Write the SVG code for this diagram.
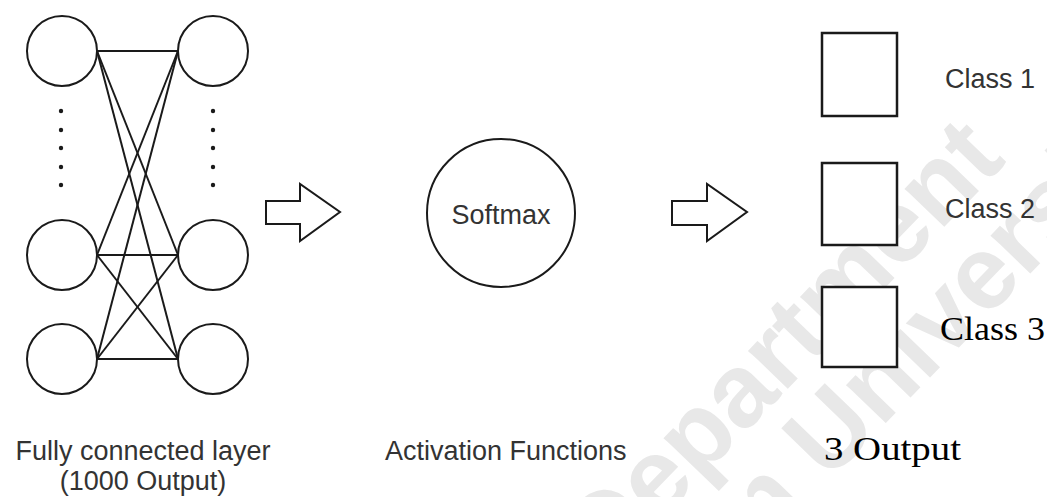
<svg xmlns="http://www.w3.org/2000/svg" width="1047" height="497" viewBox="0 0 1047 497">
  <style>
    .neuron { fill: #fff; stroke: #1a1a1a; stroke-width: 2; }
    .box { fill: #fff; stroke: #1a1a1a; stroke-width: 2.5; }
    .link { stroke: #1a1a1a; stroke-width: 2; fill: none; }
    .dot { fill: #1a1a1a; }
    .arrow { fill: #fff; stroke: #1a1a1a; stroke-width: 2; stroke-linejoin: miter; }
    .sans { font-family: "Liberation Sans", Arial, sans-serif; font-size: 27px; fill: #333; }
    .serif { font-family: "Liberation Serif", "Times New Roman", serif; font-size: 34px; fill: #000; }
    .wm { font-family: "Liberation Sans", Arial, sans-serif; font-weight: bold; font-size: 104px; fill: #e8e8e8; }
  </style>

  <rect width="1047" height="497" fill="#fff"/>

  <!-- background watermark, two parallel diagonal lines -->
  <g id="watermark">
    <text class="wm" transform="translate(606,577) rotate(-46)">Department</text>
    <text class="wm" transform="translate(660,657) rotate(-46)">ham University</text>
  </g>

  <!-- fully connected layer: all-to-all links -->
  <g id="connectors">
    <line class="link" x1="97" y1="51" x2="178" y2="51"/>
    <line class="link" x1="97" y1="51" x2="178" y2="255"/>
    <line class="link" x1="97" y1="51" x2="178" y2="359"/>
    <line class="link" x1="97" y1="255" x2="178" y2="51"/>
    <line class="link" x1="97" y1="255" x2="178" y2="255"/>
    <line class="link" x1="97" y1="255" x2="178" y2="359"/>
    <line class="link" x1="97" y1="359" x2="178" y2="51"/>
    <line class="link" x1="97" y1="359" x2="178" y2="255"/>
    <line class="link" x1="97" y1="359" x2="178" y2="359"/>
  </g>

  <g id="in-1"><circle class="neuron" cx="62" cy="51" r="35"/></g>
  <g id="in-2"><circle class="neuron" cx="62" cy="255" r="35"/></g>
  <g id="in-3"><circle class="neuron" cx="62" cy="359" r="35"/></g>
  <g id="out-1"><circle class="neuron" cx="213" cy="51" r="35"/></g>
  <g id="out-2"><circle class="neuron" cx="213" cy="255" r="35"/></g>
  <g id="out-3"><circle class="neuron" cx="213" cy="359" r="35"/></g>

  <!-- ellipsis between first and second neurons -->
  <g id="ellipsis-left">
    <circle class="dot" cx="61" cy="111" r="2.2"/>
    <circle class="dot" cx="61" cy="130" r="2.2"/>
    <circle class="dot" cx="61" cy="148" r="2.2"/>
    <circle class="dot" cx="61" cy="167" r="2.2"/>
    <circle class="dot" cx="61" cy="185" r="2.2"/>
  </g>
  <g id="ellipsis-right">
    <circle class="dot" cx="213" cy="111" r="2.2"/>
    <circle class="dot" cx="213" cy="130" r="2.2"/>
    <circle class="dot" cx="213" cy="148" r="2.2"/>
    <circle class="dot" cx="213" cy="167" r="2.2"/>
    <circle class="dot" cx="213" cy="185" r="2.2"/>
  </g>

  <g id="arrow-1"><polygon class="arrow" points="266,201 300,201 300,184 340,212 300,241 300,224 266,224"/></g>

  <g id="softmax">
    <circle class="neuron" cx="501" cy="213" r="74"/>
    <text class="sans" x="501" y="224" text-anchor="middle">Softmax</text>
  </g>

  <g id="arrow-2"><polygon class="arrow" points="672,201 707,201 707,184 747,212 707,241 707,225 672,225"/></g>

  <g id="class-1">
    <rect class="box" x="822" y="33" width="75" height="83"/>
    <text class="sans" x="945" y="88">Class 1</text>
  </g>
  <g id="class-2">
    <rect class="box" x="822" y="163" width="75" height="82"/>
    <text class="sans" x="945" y="218">Class 2</text>
  </g>
  <g id="class-3">
    <rect class="box" x="822" y="287" width="75" height="80"/>
    <text class="serif" x="940" y="340" textLength="105" lengthAdjust="spacingAndGlyphs">Class 3</text>
  </g>

  <!-- captions -->
  <g id="captions">
    <text class="sans" x="143" y="460" text-anchor="middle">Fully connected layer</text>
    <text class="sans" x="143" y="490" text-anchor="middle">(1000 Output)</text>
    <text class="sans" x="385" y="460">Activation Functions</text>
    <text class="serif" x="824" y="460" textLength="137" lengthAdjust="spacingAndGlyphs">3 Output</text>
  </g>
</svg>
